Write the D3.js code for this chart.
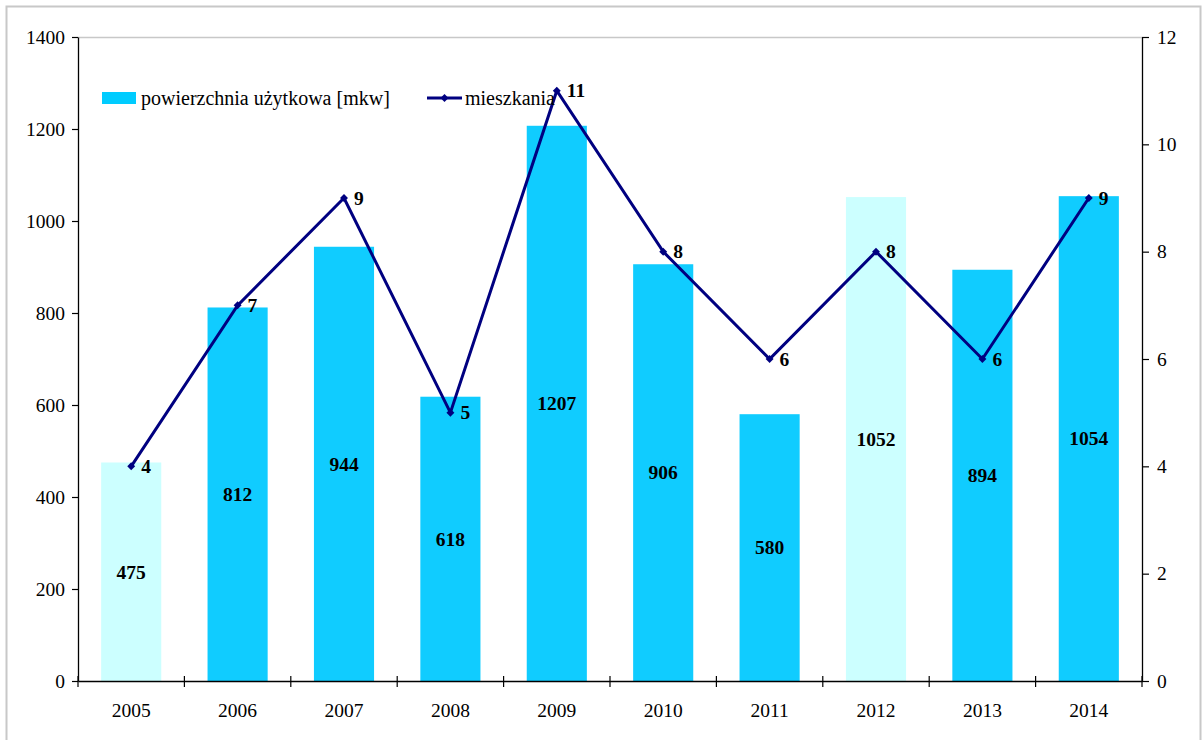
<!DOCTYPE html>
<html>
<head>
<meta charset="utf-8">
<script src="https://cdn.jsdelivr.net/npm/d3@7"></script>
<style>
  body { margin: 0; background: #fff; }
  svg text { font-family: "Liberation Serif", "Times New Roman", serif; }
</style>
</head>
<body>
<div id="chart"></div>
<script>
// data
const years = ["2005","2006","2007","2008","2009","2010","2011","2012","2013","2014"];
const area = [475, 812, 944, 618, 1207, 906, 580, 1052, 894, 1054];
const flats = [4, 7, 9, 5, 11, 8, 6, 8, 6, 9];
const paleYears = ["2005","2012"];
const leftTicks = [0,200,400,600,800,1000,1200,1400];
const rightTicks = [0,2,4,6,8,10,12];

const W = 1202, H = 740;
const margin = {top: 37, right: 60, bottom: 59, left: 78};
const width = 1142 - margin.left, height = 681 - margin.top;

const svg = d3.select("#chart").append("svg")
    .attr("width", W).attr("height", H);

// outer frame
svg.append("rect")
    .attr("x", 6.5).attr("y", 6.5)
    .attr("width", 1194).attr("height", 745)
    .attr("fill", "none").attr("stroke", "#c8c8c8").attr("stroke-width", 2);

const g = svg.append("g").attr("transform", `translate(${margin.left},${margin.top})`);

const xb = d3.scaleBand().domain(years).range([0, width]);
const yL = d3.scaleLinear().domain([0, 1400]).range([height, 0]);
const yR = d3.scaleLinear().domain([0, 12]).range([height, 0]);

// top border of plot area
g.append("line").attr("x1", 0).attr("x2", width).attr("y1", 0.5).attr("y2", 0.5)
    .attr("stroke", "#c8c8c8").attr("stroke-width", 1.5);

// bars
const bw = xb.bandwidth() * 0.565;
g.selectAll("rect.bar").data(years).join("rect")
    .attr("class", "bar")
    .attr("x", (d) => xb(d) + xb.bandwidth()/2 - bw/2)
    .attr("width", bw)
    .attr("y", (d, i) => yL(area[i]))
    .attr("height", (d, i) => height - yL(area[i]))
    .attr("fill", d => paleYears.includes(d) ? "#ccffff" : "#10ccff");

// bar labels
g.selectAll("text.blab").data(years).join("text")
    .attr("class", "blab")
    .attr("x", d => xb(d) + xb.bandwidth()/2)
    .attr("y", (d, i) => (yL(area[i]) + height) / 2)
    .attr("dy", "0.35em")
    .attr("text-anchor", "middle")
    .attr("font-weight", "bold")
    .attr("font-size", 19.5)
    .text((d, i) => area[i]);

// axes
const axL = g.append("g").call(d3.axisLeft(yL).tickValues(leftTicks).tickFormat(d3.format("d"))
    .tickSize(6).tickPadding(7).tickSizeOuter(0));
const axR = g.append("g").attr("transform", `translate(${width},0)`)
    .call(d3.axisRight(yR).tickValues(rightTicks).tickSize(7).tickPadding(8).tickSizeOuter(0));
const axB = g.append("g").attr("transform", `translate(0,${height})`)
    .call(d3.axisBottom(xb).tickSize(0).tickPadding(22).tickSizeOuter(0));
[axL, axR, axB].forEach(a => {
  a.attr("font-family", "Liberation Serif, serif");
  a.selectAll("text").attr("font-size", 19.5).attr("fill", "#000");
  a.select(".domain").attr("stroke", "#000").attr("stroke-width", 1.3);
  a.selectAll(".tick line").attr("stroke", "#000").attr("stroke-width", 1.2);
});

// category boundary ticks on x axis
const bounds = years.map(d => xb(d)).concat([width]);
g.selectAll("line.xt").data(bounds).join("line")
    .attr("class", "xt")
    .attr("x1", d => d).attr("x2", d => d)
    .attr("y1", height - 5).attr("y2", height + 6)
    .attr("stroke", "#000").attr("stroke-width", 1.2);

// line series
const cx = (d) => xb(d) + xb.bandwidth()/2;
const line = d3.line().x((d, i) => cx(years[i])).y(d => yR(d));
g.append("path").datum(flats)
    .attr("d", line)
    .attr("fill", "none").attr("stroke", "#000080").attr("stroke-width", 3);

const diamond = d3.symbol().type(d3.symbolDiamond2).size(40);
g.selectAll("path.mk").data(flats).join("path")
    .attr("class", "mk")
    .attr("transform", (d, i) => `translate(${cx(years[i])},${yR(d)})`)
    .attr("d", diamond)
    .attr("fill", "#000080");

g.selectAll("text.llab").data(flats).join("text")
    .attr("class", "llab")
    .attr("x", (d, i) => cx(years[i]) + 10)
    .attr("y", d => yR(d))
    .attr("dy", "0.35em")
    .attr("font-weight", "bold")
    .attr("font-size", 19.5)
    .text(d => d);

// legend
const leg = svg.append("g");
leg.append("rect").attr("x", 102).attr("y", 92).attr("width", 34).attr("height", 12).attr("fill", "#00ccff");
leg.append("text").attr("x", 141).attr("y", 98).attr("dy", "0.35em").attr("font-size", 20)
    .text("powierzchnia użytkowa [mkw]");
leg.append("line").attr("x1", 427).attr("x2", 462).attr("y1", 98).attr("y2", 98)
    .attr("stroke", "#000080").attr("stroke-width", 3);
leg.append("path").attr("transform", "translate(444.5,98)").attr("d", diamond).attr("fill", "#000080");
leg.append("text").attr("x", 465).attr("y", 98).attr("dy", "0.35em").attr("font-size", 20)
    .text("mieszkania");
</script>
</body>
</html>
